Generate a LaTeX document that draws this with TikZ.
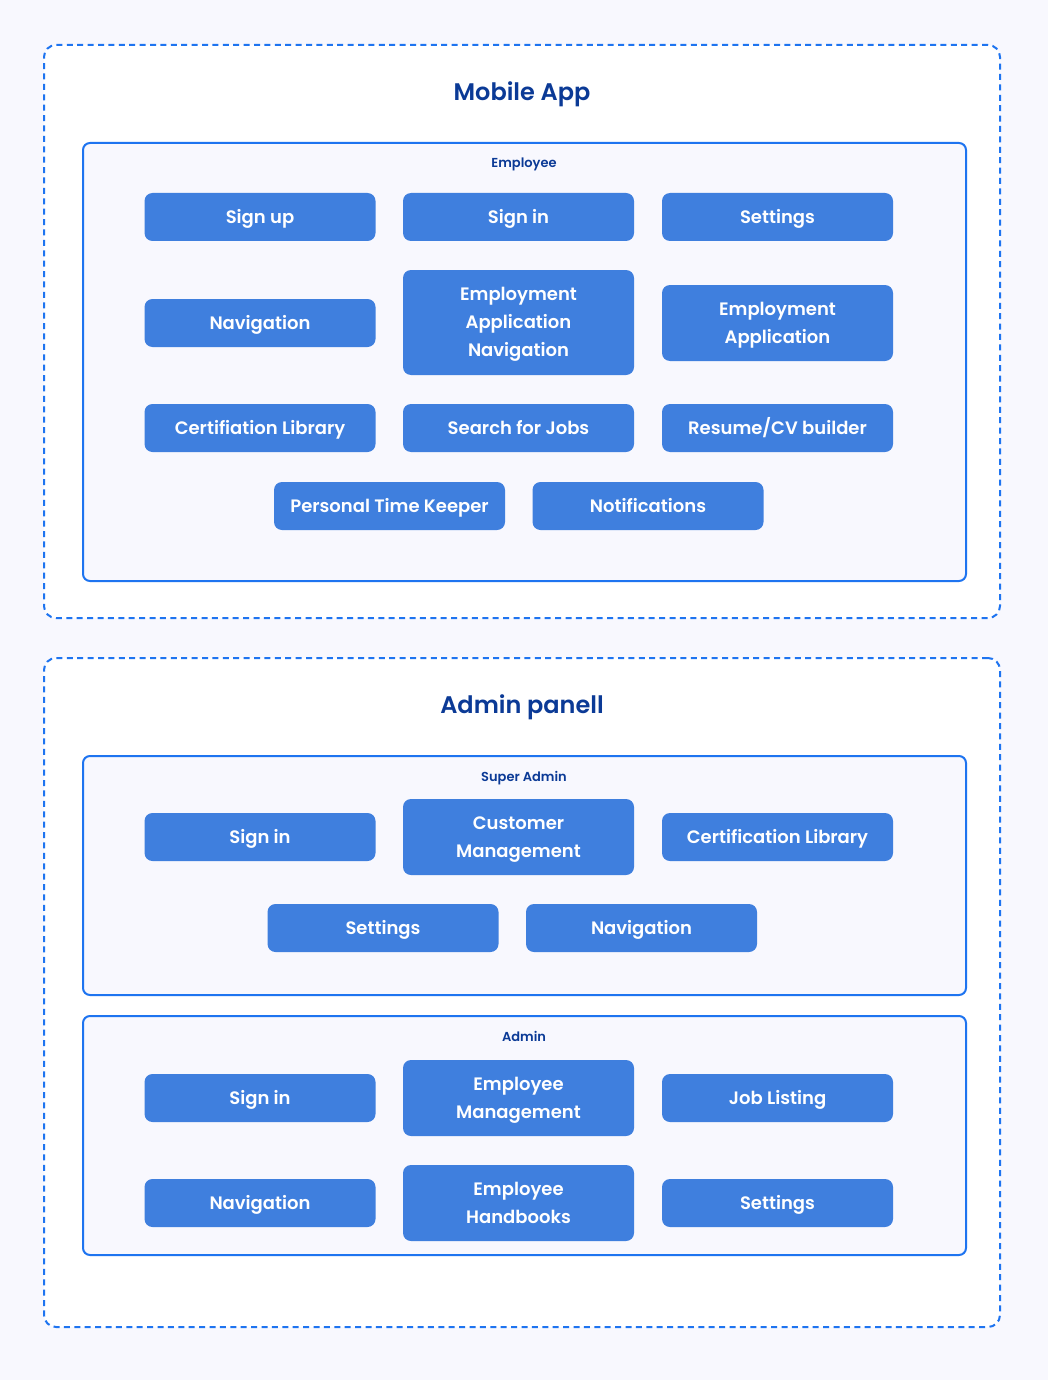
\documentclass[tikz,border=0pt]{standalone}
\usepackage{fontspec}
\setmainfont{Poppins}[BoldFont={Poppins SemiBold}]
\definecolor{pagebg}{HTML}{F8F8FE}
\definecolor{boxline}{HTML}{1E74F0}
\definecolor{btnblue}{HTML}{3F7FDE}
\definecolor{titleblue}{HTML}{0B3A96}
\begin{document}
\begin{tikzpicture}[x=0.5pt,y=-0.5pt,
  outerbox/.style={draw=boxline, line width=1pt, dash pattern=on 3pt off 2.2pt, fill=white, rounded corners=6pt, inner sep=0pt},
  innerbox/.style={draw=boxline, line width=1pt, fill=pagebg, rounded corners=3.5pt, inner sep=0pt},
  btn/.style={fill=btnblue, rounded corners=4pt, text=white, font=\bfseries\fontsize{9}{14}\selectfont, align=center, inner sep=0pt, minimum width=115.5pt, minimum height=24pt, text depth=0.2pt},
  title/.style={text=titleblue, font=\bfseries\fontsize{12}{14}\selectfont, text depth=0.2pt},
  grp/.style={text=titleblue, font=\bfseries\fontsize{6.5}{8}\selectfont, text depth=0.1pt}
]
\fill[pagebg] (0,0) rectangle (1048,1380);
\useasboundingbox (0,0) rectangle (1048,1380);

% Mobile app
\node[outerbox, minimum width=478pt, minimum height=286.5pt] (mobile) at (522,331.5) {};
\node[title] (mtitle) at (522,91) {Mobile App};
\node[innerbox, minimum width=441.5pt, minimum height=219pt] (emp) at (524.5,362) {};
\node[grp] (emplabel) at (524,163) {Employee};

\node[btn] (signup) at (260,217) {Sign up};
\node[btn] (signin) at (518.5,217) {Sign in};
\node[btn] (settings) at (777.5,217) {Settings};
\node[btn] (nav) at (260,323) {Navigation};
\node[btn, minimum height=52.5pt] (ean) at (518.5,322.5) {Employment\\Application\\Navigation};
\node[btn, minimum height=38pt] (ea) at (777.5,323) {Employment\\Application};
\node[btn] (certlib) at (260,428) {Certifiation Library};
\node[btn] (search) at (518.5,428) {Search for Jobs};
\node[btn, text height=6.7pt] (resume) at (777.5,428) {Resume/CV builder};
\node[btn] (ptk) at (389.5,506) {Personal Time Keeper};
\node[btn] (notif) at (648,506) {Notifications};

% Admin panel
\node[outerbox, minimum width=478pt, minimum height=334.5pt] (admin) at (522,992.5) {};
\node[title] (atitle) at (522,704) {Admin panell};

\node[innerbox, minimum width=441.5pt, minimum height=119.5pt] (super) at (524.5,875.5) {};
\node[grp] (superlabel) at (524,776) {Super Admin};
\node[btn] (ssignin) at (260,837) {Sign in};
\node[btn, minimum height=38pt] (custmgmt) at (518.5,837) {Customer\\Management};
\node[btn] (scert) at (777.5,837) {Certification Library};
\node[btn] (ssettings) at (383,928) {Settings};
\node[btn] (snav) at (641.5,928) {Navigation};

\node[innerbox, minimum width=441.5pt, minimum height=119.5pt] (adm) at (524.5,1135.5) {};
\node[grp] (admlabel) at (524,1036) {Admin};
\node[btn] (asignin) at (260,1098) {Sign in};
\node[btn, minimum height=38pt] (empmgmt) at (518.5,1098) {Employee\\Management};
\node[btn] (job) at (777.5,1098) {Job Listing};
\node[btn] (anav) at (260,1203) {Navigation};
\node[btn, minimum height=38pt] (hand) at (518.5,1203) {Employee\\Handbooks};
\node[btn] (asettings) at (777.5,1203) {Settings};
\end{tikzpicture}
\end{document}
